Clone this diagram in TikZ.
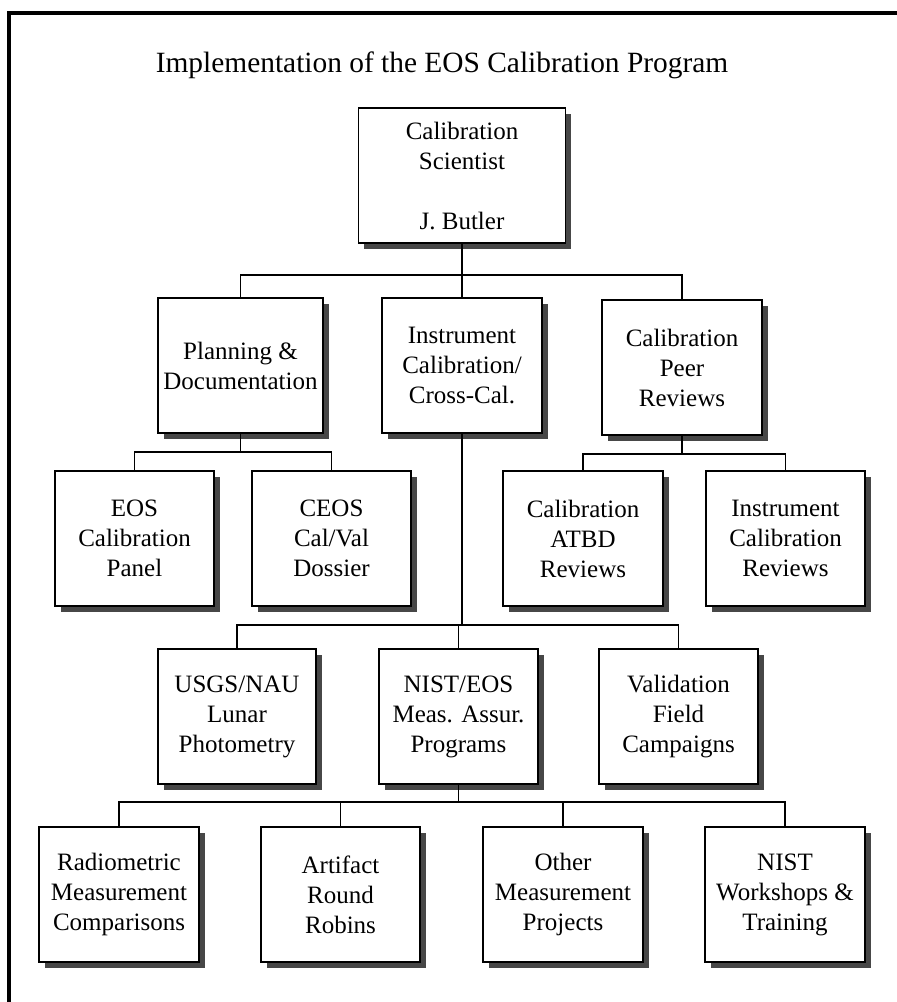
\documentclass[tikz,border=0pt]{standalone}
\usepackage{fontspec}
\setmainfont{Liberation Serif}
\usetikzlibrary{shadows}
\tikzstyle{unit}=[draw, line width=0.9pt, fill=white, align=center, inner sep=2pt, font=\fontsize{12.5}{15}\selectfont, drop shadow={shadow xshift=2.8pt, shadow yshift=-2.8pt, fill=black!72, opacity=1}]
\tikzstyle{edge}=[draw, line width=0.9pt]
\tikzstyle{heading}=[font=\fontsize{14.7}{18}\selectfont, anchor=base]

\begin{document}
\begin{tikzpicture}[x=0.5pt, y=-0.5pt]

    \useasboundingbox (0,0) rectangle (897,1002);
    \draw[line width=1.6pt] (897,13) -- (9,13) -- (9,1002);

    \node[heading] (title) at (442,72) {Implementation of the EOS Calibration Program};

    % boxes, px positions
    \foreach \x/\y/\w/\name/\txt in {
        462/175.5/103.5/top/{Calibration\\Scientist\\[15pt]J. Butler},
        240.5/365.5/82.5/plan/{Planning \&\\Documentation},
        462/365.5/80/inst/{Instrument\\Calibration/\\Cross-Cal.},
        682/367.5/80/peer/{Calibration\\Peer\\Reviews},
        134.5/538.5/79.5/eos/{EOS\\Calibration\\Panel},
        331.5/538.5/79.5/ceos/{CEOS\\Cal/Val\\Dossier},
        583/538.5/80/atbd/{Calibration\\ATBD\\Reviews},
        785.5/538.5/79.5/icr/{Instrument\\Calibration\\Reviews},
        237/716.5/79/usgs/{USGS/NAU\\Lunar\\Photometry},
        458.5/716.5/79.5/nist/{NIST/EOS\\Meas. Assur.\\Programs},
        678.5/716.5/79.5/valid/{Validation\\Field\\Campaigns},
        119/894.5/80/radio/{Radiometric\\Measurement\\Comparisons},
        340.5/894.5/79.5/artif/{Artifact\\Round\\Robins},
        563/894.5/80/other/{Other\\Measurement\\Projects},
        785/894.5/80/works/{NIST\\Workshops \&\\Training}}
        \node[unit, minimum width=\w pt, minimum height=67.5pt] (\name) at (\x,\y) {\txt};

    % bus lines
    \coordinate (bus1) at (0,275);
    \coordinate (bus2) at (0,452);
    \coordinate (bus3) at (0,454);
    \coordinate (bus4) at (0,625);
    \coordinate (bus5) at (0,802);

    \foreach \source/\dest/\bus in {top/plan/bus1, top/inst/bus1, top/peer/bus1,
        plan/eos/bus2, plan/ceos/bus2, peer/atbd/bus3, peer/icr/bus3,
        inst/usgs/bus4, inst/nist/bus4, inst/valid/bus4,
        nist/radio/bus5, nist/artif/bus5, nist/other/bus5, nist/works/bus5}
        \path[edge] (\source.south) |- (\dest.north |- \bus) -- (\dest.north);

\end{tikzpicture}
\end{document}
